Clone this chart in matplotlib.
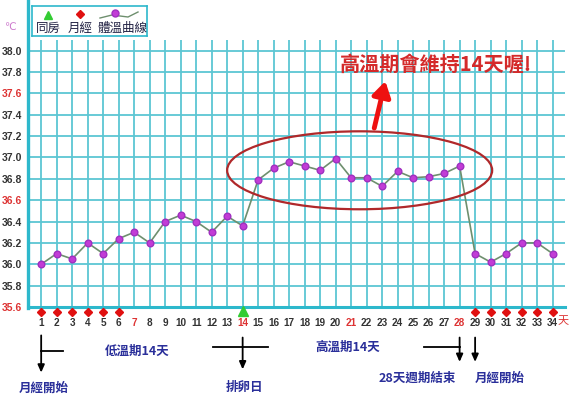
import numpy as np
import matplotlib
matplotlib.use("Agg")
import matplotlib.pyplot as plt
from matplotlib.patches import Ellipse
from matplotlib.lines import Line2D

plt.rcParams['font.family'] = ['Noto Sans CJK TC', 'DejaVu Sans']

# data
days = np.arange(1, 35)
temps = [36.00, 36.10, 36.05, 36.20, 36.10, 36.24, 36.30, 36.20, 36.40, 36.46,
         36.40, 36.30, 36.45, 36.36, 36.79, 36.90, 36.96, 36.92, 36.88, 36.99,
         36.81, 36.81, 36.73, 36.87, 36.81, 36.82, 36.85, 36.92, 36.10, 36.02,
         36.10, 36.20, 36.20, 36.10]
period_days = [1, 2, 3, 4, 5, 6, 29, 30, 31, 32, 33, 34]
sex_days = [14]
red_days = [7, 14, 21, 28]
yticks = [35.6, 35.8, 36.0, 36.2, 36.4, 36.6, 36.8, 37.0, 37.2, 37.4, 37.6, 37.8, 38.0]
red_yticks = [35.6, 36.6, 37.6]

W, H = 573, 400
fig = plt.figure(figsize=(W / 100, H / 100), dpi=100)
grid_c = '#5CC6D3'
axis_c = '#2DB8CC'
navy = '#2A2F9A'

ax = fig.add_axes([28 / W, 1 - 307 / H, (565 - 28) / W, (307 - 40) / H])
ax.set_xlim(0.15, 34.8)
ax.set_ylim(35.6, 38.1)

for y in yticks[1:]:
    ax.axhline(y, color=grid_c, lw=1.3, zorder=1)
for d in days:
    ax.axvline(d, color=grid_c, lw=1.3, zorder=1)
for s in ['top', 'right', 'left']:
    ax.spines[s].set_visible(False)
ax.spines['bottom'].set_color(axis_c)
ax.spines['bottom'].set_linewidth(2.2)
fig.add_artist(Line2D([28 / W, 28 / W], [1 - 308 / H, 1.0], color=axis_c, lw=2.4,
                      transform=fig.transFigure))

ax.set_yticks(yticks)
ax.set_yticklabels([f'{v:.1f}' for v in yticks], fontsize=7.5, fontweight='bold',
                   family='Liberation Sans')
for lab, v in zip(ax.get_yticklabels(), yticks):
    lab.set_color('#DD3333' if v in red_yticks else '#333333')
ax.tick_params(axis='y', length=0, pad=4)
ax.set_xticks([])

# day labels under the axis
for d in days:
    ax.text(d, 35.45, str(d), ha='center', va='center', fontsize=7.2,
            fontweight='bold', family='Liberation Sans',
            color='#DD3333' if d in red_days else '#333333', clip_on=False)
ax.text(34.68, 35.47, '天', ha='center', va='center', fontsize=8,
        color='#DD3333', clip_on=False)

ax.plot(period_days, [35.553] * len(period_days), 'D', color='#E01010', ms=4.5,
        clip_on=False, zorder=5)
ax.plot(sex_days, [35.56] * len(sex_days), '^', color='#33CC33', ms=6.5,
        clip_on=False, zorder=5)

# temperature curve
ax.plot(days, temps, '-', color='#6E8F6E', lw=1.2, zorder=3)
ax.plot(days, temps, 'o', mfc='#C23CD6', mec='#A030C0', ms=4.8, zorder=4)

ax.add_patch(Ellipse((21.55, 36.88), 17.1, 0.73, fill=False, ec='#B0282A', lw=1.6,
                     zorder=4))
ax.annotate('', xy=(23.25, 37.74), xytext=(22.45, 37.25),
            arrowprops=dict(arrowstyle='-|>,head_width=0.55,head_length=0.9',
                            color='#EE1111', lw=3.5), zorder=5)
ax.text(26.5, 37.875, '高溫期會維持14天喔!', ha='center', va='center', fontsize=14.5,
        color='#D42A2A', fontweight='bold', zorder=6)

# bottom notes
arr = dict(arrowstyle='-|>,head_width=0.2,head_length=0.45', color='black', lw=1.3)
kw = dict(annotation_clip=False)
note = dict(ha='center', va='center', fontsize=9, color=navy, fontweight='bold',
            clip_on=False)
ax.annotate('', xy=(1, 34.96), xytext=(1, 35.36), arrowprops=arr, **kw)
ax.plot([1, 2.4], [35.19, 35.19], color='black', lw=1.3, clip_on=False)
ax.text(1.15, 34.84, '月經開始', **note)
ax.text(7.2, 35.19, '低溫期14天', **note)

ax.annotate('', xy=(14, 34.99), xytext=(14, 35.34), arrowprops=arr, **kw)
ax.plot([12.1, 15.66], [35.23, 35.23], color='black', lw=1.3, clip_on=False)
ax.text(14.1, 34.85, '排卵日', **note)

ax.text(20.77, 35.225, '高溫期14天', **note)
ax.plot([25.68, 28], [35.225, 35.225], color='black', lw=1.3, clip_on=False)
ax.annotate('', xy=(28, 35.06), xytext=(28, 35.34), arrowprops=arr, **kw)
ax.annotate('', xy=(29, 35.06), xytext=(29, 35.34), arrowprops=arr, **kw)
ax.text(25.3, 34.935, '28天週期結束', **note)
ax.text(30.6, 34.935, '月經開始', **note)

# legend box
lg = fig.add_axes([32 / W, 1 - 36 / H, 115 / W, 30 / H])
lg.set_xlim(0, 115)
lg.set_ylim(30, 0)
lg.set_xticks([])
lg.set_yticks([])
for s in lg.spines.values():
    s.set_color(axis_c)
    s.set_linewidth(1.2)
lg.plot([16], [9], '^', color='#33CC33', ms=6)
lg.plot([48], [8], 'D', color='#E01010', ms=4.5)
lg.plot([68, 80, 96, 106], [12, 9, 11, 6], '-', color='#6E8F6E', lw=1)
lg.plot([83], [7], 'o', mfc='#C23CD6', mec='#A030C0', ms=5)
lg.text(16, 22, '同房', ha='center', va='center', fontsize=9, color='#222244',
        fontweight='medium')
lg.text(48, 22, '月經', ha='center', va='center', fontsize=9, color='#222244',
        fontweight='medium')
lg.text(90, 22, '體溫曲線', ha='center', va='center', fontsize=9, color='#222244',
        fontweight='medium')

fig.text(10 / W, 1 - 27 / H, '℃', ha='center', va='center', fontsize=7.5,
         color='#CC77CC', family='DejaVu Sans')

fig.savefig('out.png', dpi=100, facecolor='white')
